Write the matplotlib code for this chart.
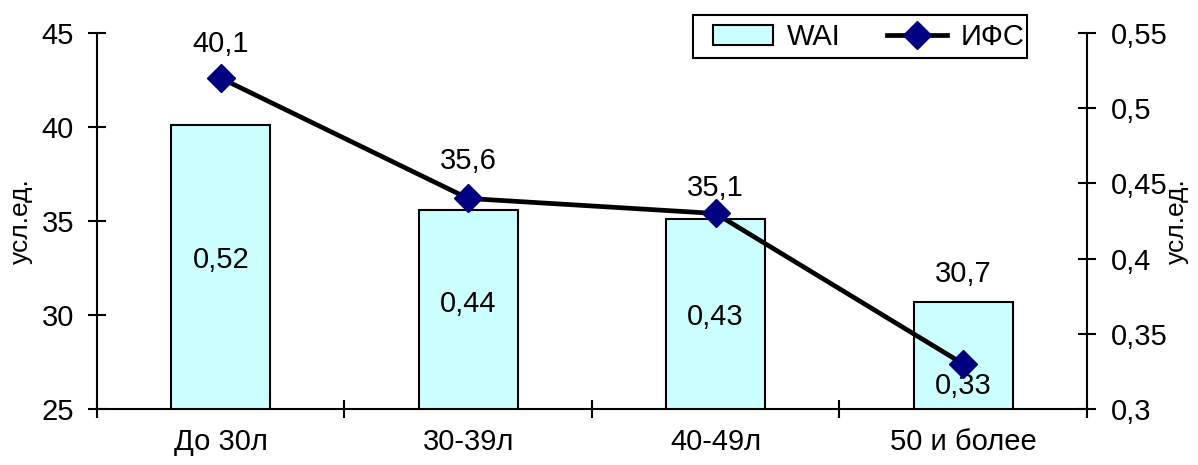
import matplotlib
matplotlib.use("Agg")
import matplotlib.pyplot as plt
from matplotlib.patches import Rectangle
import numpy as np

plt.rcParams['font.family'] = ['Liberation Sans', 'DejaVu Sans']

# данные по возрастным группам
groups = ['До 30л', '30-39л', '40-49л', '50 и более']
wai = [40.1, 35.6, 35.1, 30.7]
ifs = [0.52, 0.44, 0.43, 0.33]

# положение подписей (по левой оси)
wai_label_y = [44.4, 38.2, 36.75, 32.2]
ifs_label_y = [32.9, 30.6, 29.9, 26.2]

FS = 21
W, H = 1198, 465


def fmt(v):
    return f'{v:g}'.replace('.', ',')


fig = plt.figure(figsize=(W / 100, H / 100), dpi=100)
ax = fig.add_axes([0.081, 0.1204, 0.8262, 0.8086])
ax2 = ax.twinx()

x = np.arange(len(groups))
bars = ax.bar(x, wai, width=0.4, bottom=0, color='#CCFFFF',
              edgecolor='black', linewidth=1.5, label='WAI', zorder=2)
line, = ax2.plot(x, ifs, color='black', linewidth=3.4, marker='D',
                 markersize=14, markerfacecolor='#000080',
                 markeredgecolor='#000080', label='ИФС', zorder=3)

ax.set_xlim(-0.5, len(groups) - 0.5)
ax.set_ylim(25, 45)
ax2.set_ylim(0.3, 0.55)
ax.set_yticks(np.arange(25, 46, 5))
ax2.set_yticks(np.arange(0.30, 0.551, 0.05))
ax2.set_yticklabels([fmt(round(v, 2)) for v in np.arange(0.30, 0.551, 0.05)])

# подписи значений
for i in range(len(groups)):
    ax.text(x[i], wai_label_y[i], fmt(wai[i]), ha='center', va='center',
            fontsize=FS, zorder=4)
    ax.text(x[i], ifs_label_y[i], fmt(ifs[i]), ha='center', va='center',
            fontsize=FS, zorder=4)

# ось категорий: метки в центрах, деления на границах
ax.set_xticks(x)
ax.set_xticklabels(groups, fontsize=FS)
ax.set_xticks(np.arange(-0.5, len(groups), 1), minor=True)
ax.tick_params(axis='x', which='major', length=0, pad=14)
ax.tick_params(axis='x', which='minor', direction='inout', length=13, width=1.5)

ax.tick_params(axis='y', direction='inout', length=13, width=1.5,
               labelsize=FS, pad=10)
ax2.tick_params(axis='y', direction='inout', length=13, width=1.5,
                labelsize=FS, pad=11)

for a in (ax, ax2):
    a.spines['top'].set_visible(False)
    for s in ('left', 'right', 'bottom'):
        a.spines[s].set_linewidth(1.5)
ax.spines['right'].set_visible(False)
ax2.spines['left'].set_visible(False)
ax2.spines['bottom'].set_visible(False)

ax.set_ylabel('усл.ед.', fontsize=19, labelpad=6)
ax2.set_ylabel('усл.ед.', fontsize=19, labelpad=-2)

# легенда без рамки + отдельная рамка вокруг неё
fig.legend([bars, line], ['WAI', 'ИФС'], loc='center left',
           bbox_to_anchor=(713 / W, 1 - 37 / H), ncol=2, fontsize=FS,
           frameon=False, handlelength=2.05, handletextpad=0.48,
           columnspacing=1.6, borderpad=0, borderaxespad=0)
fig.patches.append(Rectangle((693 / W, 1 - 58 / H), 334 / W, 43 / H,
                             transform=fig.transFigure, facecolor='white',
                             edgecolor='black', linewidth=1.5, zorder=0))

fig.savefig('out.png', dpi=100)
